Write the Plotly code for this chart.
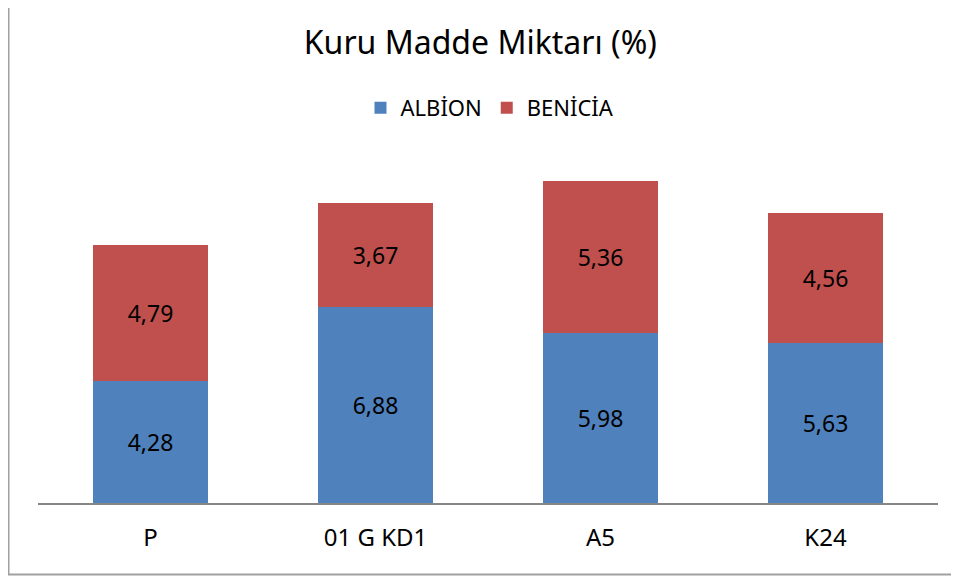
import plotly.graph_objects as go

categories = ["P", "01 G KD1", "A5", "K24"]
albion = [4.28, 6.88, 5.98, 5.63]
benicia = [4.79, 3.67, 5.36, 4.56]
series_names = ["ALBİON", "BENİCİA"]
colors = ["#4F81BD", "#C0504D"]

def fmt(v):
    return f"{v:.2f}".replace(".", ",")

FONT = "Noto Sans"
OFF = 8  # page body margin offset
W, H = 951, 570
# plot area in screen pixels: x 38..938, y 105..503
ml, mr = 38 - OFF, W - (938 - OFF)
mt, mb = 105 - OFF, H - (503 - OFF)
pw, ph = W - ml - mr, H - mt - mb

def sx(px):  # screen x -> paper
    return (px - OFF - ml) / pw

def sy(py):  # screen y -> paper
    return (H - mb - (py - OFF)) / ph

fig = go.Figure()
for name, vals, col in zip(series_names, [albion, benicia], colors):
    fig.add_trace(go.Bar(
        x=categories, y=vals, name=name, marker_color=col,
        marker_line_width=0,
        text=[fmt(v) for v in vals], textposition="inside",
        insidetextanchor="middle",
        textfont=dict(size=23, color="black", family=FONT),
        width=0.515,
    ))

fig.update_layout(
    width=W, height=H,
    margin=dict(l=ml, r=mr, t=mt, b=mb),
    barmode="stack",
    paper_bgcolor="white", plot_bgcolor="white",
    font=dict(family=FONT, color="black"),
    title=dict(text="Kuru Madde Miktarı (%)", x=sx(485), xanchor="center",
               y=1 - (43 - OFF) / H, yanchor="middle",
               font=dict(size=32, color="black", family=FONT)),
    legend=dict(orientation="h", x=sx(490), xanchor="center",
                y=sy(108), yanchor="middle",
                font=dict(size=22, color="black", family=FONT),
                traceorder="normal", itemwidth=30),
    xaxis=dict(showline=True, linecolor="#868686", linewidth=2,
               ticks="", tickfont=dict(size=24, color="black", family=FONT),
               ticklabelstandoff=12,
               showgrid=False),
    yaxis=dict(range=[0, 14], visible=False, showgrid=False),
    showlegend=True,
    shapes=[dict(type="rect", xref="paper", yref="paper",
                 x0=sx(8.5), x1=sx(990),
                 y0=sy(574.5), y1=sy(0.5),
                 line=dict(color="#A0A0A0", width=2), fillcolor="rgba(0,0,0,0)",
                 layer="below")],
)
fig.write_html("out.html")
